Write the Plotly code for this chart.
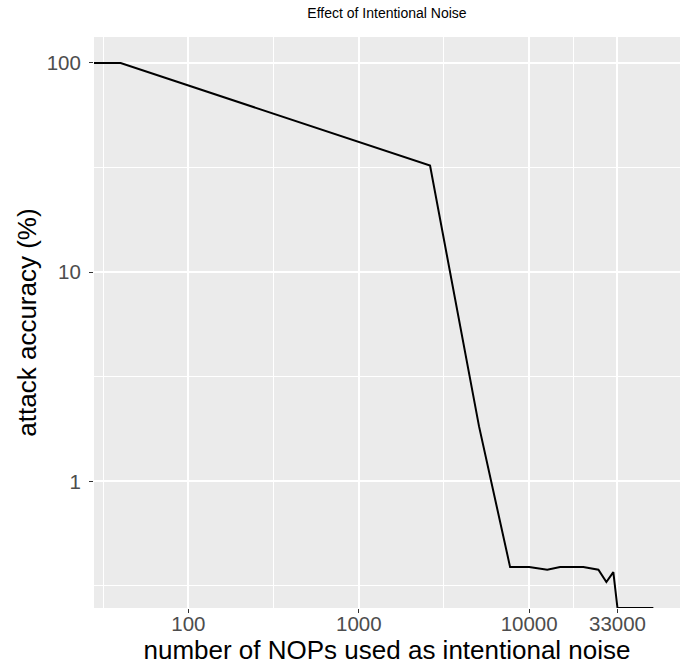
import numpy as np
import plotly.graph_objects as go

# Data (0 means "no noise" / "0 % accuracy"; drawn at panel edge like ggplot's -Inf)
nops = [0, 40, 2620, 5080, 7730, 10000, 12770, 15200, 20800, 25500, 28400, 31200, 33000, 53600]
accuracy = [100, 100, 32.3, 1.83, 0.389, 0.389, 0.378, 0.389, 0.389, 0.378, 0.330, 0.368, 0, 0]

x_tick_vals = [100, 1000, 10000, 33000]
x_tick_text = ["100", "1000", "10000", "33000"]
y_tick_vals = [1, 10, 100]
y_tick_text = ["1", "10", "100"]

# ggplot-like 5% expansion on log scale
pos_x = [v for v in nops if v > 0]
pos_y = [v for v in accuracy if v > 0]
lx = np.log10(pos_x); ly = np.log10(pos_y)
xr = [lx.min() - 0.05 * (lx.max() - lx.min()), lx.max() + 0.05 * (lx.max() - lx.min())]
yr = [ly.min() - 0.05 * (ly.max() - ly.min()), ly.max() + 0.05 * (ly.max() - ly.min())]

# -Inf values sit on the panel edge
x_plot = [v if v > 0 else 10 ** xr[0] for v in nops]
y_plot = [v if v > 0 else 10 ** yr[0] for v in accuracy]

# minor breaks halfway between majors (log space)
lmx = np.log10(x_tick_vals)
x_minor = [10 ** (lmx[0] - (lmx[1] - lmx[0]) / 2)] + [10 ** ((a + b) / 2) for a, b in zip(lmx[:-1], lmx[1:])]
lmy = np.log10(y_tick_vals)
y_minor = [10 ** (lmy[0] - 0.5)] + [10 ** ((a + b) / 2) for a, b in zip(lmy[:-1], lmy[1:])]

fig = go.Figure()
fig.add_trace(go.Scatter(x=x_plot, y=y_plot, mode="lines",
                         line=dict(color="black", width=2), showlegend=False))

font = "Liberation Sans, Arial, Helvetica, sans-serif"
fig.update_layout(
    width=685, height=670,
    margin=dict(l=94, r=5, t=37, b=62),
    paper_bgcolor="white", plot_bgcolor="#EBEBEB",
    font=dict(family=font, color="#4D4D4D"),
    title=dict(text="Effect of Intentional Noise", x=0.5, xref="paper", xanchor="center",
               y=1 - 13 / 670, yanchor="middle", font=dict(size=14, color="black")),
)
fig.update_xaxes(
    type="log", range=xr, tickmode="array", tickvals=x_tick_vals, ticktext=x_tick_text,
    showgrid=True, gridcolor="white", gridwidth=2, zeroline=False, showline=False,
    ticks="outside", ticklen=4, tickwidth=1.2, tickcolor="#333333",
    tickfont=dict(size=20.5, color="#4D4D4D"), ticklabelstandoff=-7,
    title=dict(text="number of NOPs used as intentional noise", font=dict(size=26, color="black"), standoff=0),
    minor=dict(tickmode="array", tickvals=x_minor, showgrid=True, gridcolor="white", gridwidth=1, ticks=""),
)
fig.update_yaxes(
    type="log", range=yr, tickmode="array", tickvals=y_tick_vals, ticktext=y_tick_text,
    showgrid=True, gridcolor="white", gridwidth=2, zeroline=False, showline=False,
    ticks="outside", ticklen=4, tickwidth=1.2, tickcolor="#333333",
    tickfont=dict(size=20.5, color="#4D4D4D"), ticklabelstandoff=4,
    title=dict(text="attack accuracy (%)", font=dict(size=26, color="black"), standoff=2),
    minor=dict(tickmode="array", tickvals=y_minor, showgrid=True, gridcolor="white", gridwidth=1, ticks=""),
)

fig.write_html("out.html")
